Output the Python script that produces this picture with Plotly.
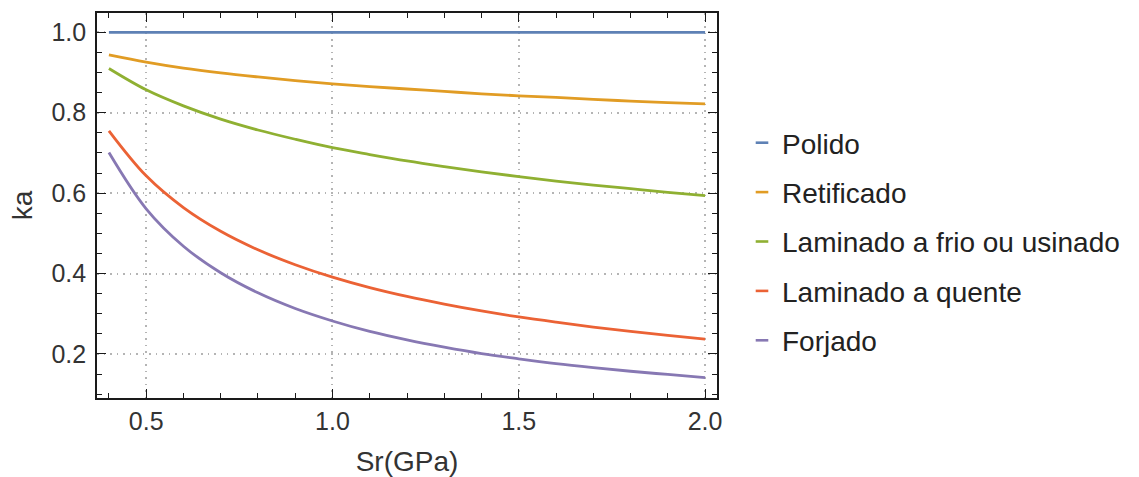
import plotly.graph_objects as go

sr = [0.4, 0.5, 0.6, 0.7, 0.8, 0.9, 1.0, 1.1, 1.2, 1.3, 1.4, 1.5, 1.6, 1.7, 1.8, 1.9, 2.0]
polido = [1.0] * 17
retificado = [0.944, 0.926, 0.911, 0.899, 0.889, 0.880, 0.872, 0.865, 0.859, 0.853, 0.847, 0.842, 0.838, 0.833, 0.829, 0.825, 0.822]
frio = [0.910, 0.857, 0.817, 0.784, 0.757, 0.734, 0.713, 0.696, 0.680, 0.666, 0.653, 0.641, 0.630, 0.620, 0.611, 0.602, 0.594]
quente = [0.755, 0.643, 0.564, 0.505, 0.459, 0.422, 0.391, 0.365, 0.343, 0.324, 0.307, 0.292, 0.279, 0.267, 0.256, 0.246, 0.237]
forjado = [0.701, 0.561, 0.468, 0.402, 0.352, 0.313, 0.282, 0.256, 0.235, 0.217, 0.201, 0.188, 0.176, 0.166, 0.157, 0.149, 0.141]

names = ["Polido", "Retificado", "Laminado a frio ou usinado", "Laminado a quente", "Forjado"]
series = [polido, retificado, frio, quente, forjado]
colors = ["#5E81B5", "#E19C24", "#8FB032", "#EB6235", "#8778B3"]

FONT = "Liberation Sans, Arial, sans-serif"

fig = go.Figure()
for name, ys, c in zip(names, series, colors):
    fig.add_trace(go.Scatter(x=sr, y=ys, mode="lines", line=dict(color=c, width=2.8, shape="spline"),
                             name=name, showlegend=False, legendgroup=name))
for name, c in zip(names, colors):
    fig.add_trace(go.Scatter(x=[None], y=[None], mode="markers", name=name, legendgroup=name,
                             marker=dict(symbol="line-ew", size=9, color=c, line=dict(color=c, width=2.6))))

axis_common = dict(
    showline=True, linecolor="#1a1a1a", linewidth=1.6, mirror="ticks",
    ticks="inside", ticklen=9, tickwidth=1.4, tickcolor="#1a1a1a",
    showgrid=True, gridcolor="#b4b4b4", gridwidth=1.5, griddash="1.5px,5px",
    zeroline=False, automargin=False,
    tickfont=dict(family=FONT, size=25, color="#333333"),
)

fig.update_xaxes(range=[0.368, 2.032], tickvals=[0.5, 1.0, 1.5, 2.0], ticktext=["0.5", "1.0", "1.5", "2.0"],
                 minor=dict(dtick=0.1, tick0=0.0, ticklen=5, ticks="inside", tickcolor="#1a1a1a", tickwidth=1.2, showgrid=False),
                 title=dict(text="Sr(GPa)", font=dict(family=FONT, size=28, color="#333333"), standoff=21),
                 ticklabelstandoff=0,
                 **axis_common)
fig.update_yaxes(range=[0.0905, 1.048], tickvals=[0.2, 0.4, 0.6, 0.8, 1.0], ticktext=["0.2", "0.4", "0.6", "0.8", "1.0"],
                 minor=dict(dtick=0.05, tick0=0.0, ticklen=5, ticks="inside", tickcolor="#1a1a1a", tickwidth=1.2, showgrid=False),
                 title=dict(text="ka", font=dict(family=FONT, size=28, color="#333333"), standoff=11),
                 ticklabelstandoff=4,
                 **axis_common)

fig.update_layout(
    width=1139, height=477,
    margin=dict(l=97, r=422, t=13, b=79),
    plot_bgcolor="white", paper_bgcolor="white",
    legend=dict(x=742 / 1139, xref="container", xanchor="left", y=1 - 118 / 477, yref="container", yanchor="top",
                font=dict(family=FONT, size=28, color="#222222"), maxheight=460,
                traceorder="grouped", tracegroupgap=10, bgcolor="rgba(0,0,0,0)", borderwidth=0),
)

fig.write_html("out.html", config={"displayModeBar": False},
               post_script="document.body.style.margin='0';")
